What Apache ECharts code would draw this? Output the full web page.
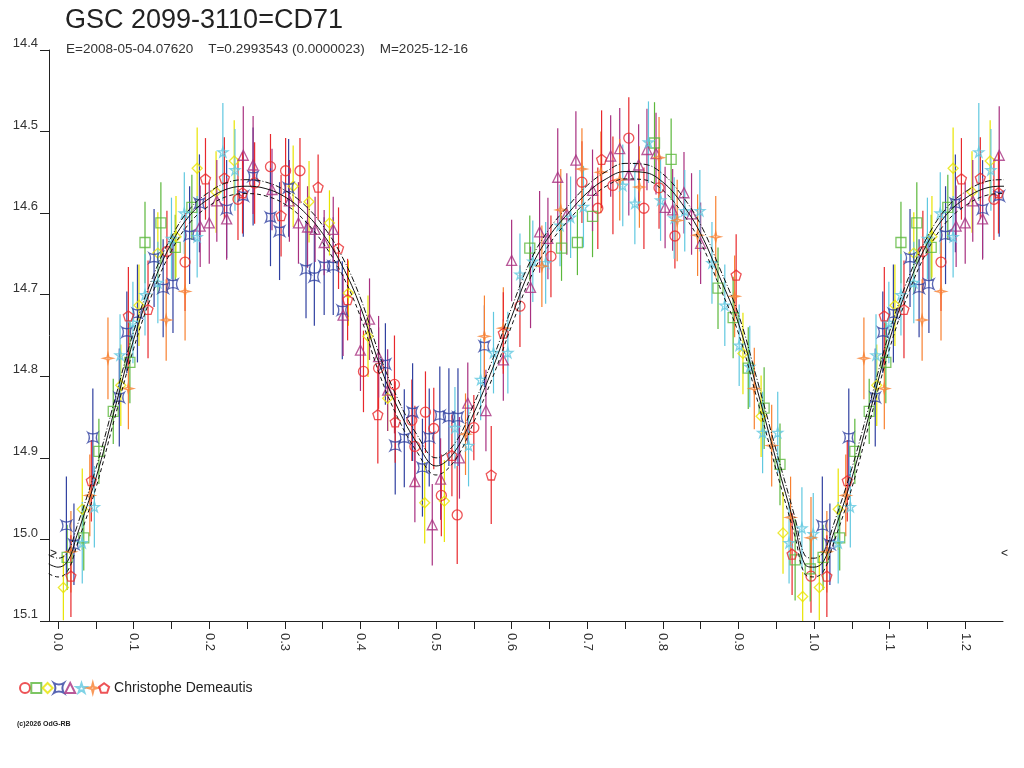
<!DOCTYPE html>
<html>
<head>
<meta charset="utf-8">
<script src="https://cdn.jsdelivr.net/npm/echarts@6/dist/echarts.min.js"></script>
<style>
html,body{margin:0;padding:0;background:#fff;}
#chart{width:1024px;height:768px;}
</style>
</head>
<body>
<div id="chart"></div>
<script>
// phase, magnitude, error (half length)
const redCircle = [
    [0.144,14.647,0.05],[0.168,14.660,0.06],[0.238,14.583,0.05],[0.260,14.563,0.05],[0.281,14.543,0.04],
    [0.301,14.548,0.04],[0.320,14.548,0.04],[0.404,14.794,0.05],[0.424,14.790,0.05],[0.445,14.810,0.06],
    [0.468,14.854,0.05],[0.472,14.886,0.05],[0.486,14.844,0.05],[0.497,14.864,0.05],[0.507,14.946,0.05],
    [0.528,14.970,0.06],[0.550,14.863,0.04],[0.611,14.714,0.05],[0.652,14.653,0.05],[0.693,14.562,0.05],
    [0.714,14.594,0.05],[0.734,14.566,0.06],[0.755,14.508,0.05],[0.775,14.594,0.05],[0.795,14.569,0.05],
    [0.816,14.628,0.04],[0.996,15.045,0.045]
];
const greenSquare = [
    [0.012,15.022,0.04],[0.034,14.998,0.04],[0.054,14.892,0.04],[0.073,14.843,0.04],[0.095,14.783,0.05],
    [0.115,14.636,0.05],[0.136,14.612,0.05],[0.155,14.642,0.04],[0.177,14.593,0.04],[0.624,14.643,0.04],
    [0.666,14.643,0.04],[0.687,14.636,0.04],[0.707,14.604,0.05],[0.789,14.514,0.05],[0.811,14.534,0.05],
    [0.873,14.692,0.05],[0.893,14.728,0.05],[0.913,14.790,0.05],[0.934,14.839,0.05],[0.955,14.908,0.05],
    [0.975,15.025,0.05],[0.995,15.036,0.04]
];
const yellowDiamond = [
    [0.007,15.059,0.04],[0.032,14.963,0.05],[0.083,14.811,0.05],[0.107,14.713,0.05],[0.132,14.649,0.05],
    [0.156,14.629,0.05],[0.184,14.545,0.05],[0.209,14.574,0.05],[0.233,14.536,0.05],[0.311,14.567,0.05],
    [0.332,14.586,0.05],[0.359,14.612,0.04],[0.384,14.698,0.04],[0.410,14.751,0.05],[0.436,14.827,0.04],
    [0.485,14.955,0.05],[0.511,14.953,0.05],[0.906,14.772,0.05],[0.930,14.849,0.05],[0.959,14.992,0.05],
    [0.985,15.070,0.03]
];
const blueCross = [
    [0.011,14.983,0.06],[0.021,15.006,0.05],[0.046,14.875,0.06],[0.081,14.826,0.06],[0.091,14.746,0.05],
    [0.105,14.723,0.06],[0.127,14.655,0.06],[0.139,14.692,0.06],[0.152,14.687,0.06],[0.174,14.627,0.06],
    [0.187,14.588,0.06],[0.223,14.595,0.06],[0.245,14.579,0.05],[0.258,14.555,0.06],[0.281,14.605,0.06],
    [0.293,14.622,0.06],[0.305,14.569,0.06],[0.328,14.669,0.06],[0.339,14.678,0.06],[0.352,14.665,0.06],
    [0.364,14.665,0.06],[0.376,14.719,0.06],[0.433,14.785,0.05],[0.446,14.885,0.06],[0.458,14.876,0.06],
    [0.469,14.844,0.06],[0.482,14.912,0.06],[0.491,14.875,0.06],[0.505,14.848,0.06],[0.517,14.850,0.06],
    [0.529,14.850,0.06],[0.564,14.763,0.05]
];
const purpleTriangle = [
    [0.188,14.616,0.05],[0.200,14.612,0.05],[0.210,14.585,0.05],[0.223,14.607,0.05],[0.245,14.529,0.06],
    [0.258,14.541,0.06],[0.283,14.571,0.05],[0.306,14.585,0.05],[0.318,14.612,0.05],[0.330,14.617,0.05],
    [0.340,14.620,0.04],[0.352,14.636,0.04],[0.364,14.620,0.04],[0.377,14.725,0.05],[0.400,14.768,0.05],
    [0.412,14.730,0.05],[0.424,14.776,0.05],[0.436,14.817,0.05],[0.472,14.929,0.05],[0.495,14.982,0.05],
    [0.506,14.926,0.05],[0.531,14.900,0.05],[0.542,14.833,0.05],[0.566,14.842,0.05],[0.589,14.780,0.05],
    [0.600,14.658,0.05],[0.625,14.691,0.05],[0.637,14.623,0.05],[0.648,14.631,0.05],[0.661,14.556,0.06],
    [0.673,14.601,0.05],[0.685,14.535,0.06],[0.707,14.572,0.05],[0.731,14.530,0.05],[0.743,14.521,0.05],
    [0.755,14.553,0.05],[0.768,14.541,0.05],[0.779,14.522,0.05],[0.791,14.527,0.05],[0.803,14.593,0.05],
    [0.813,14.596,0.05],[0.828,14.575,0.05],[0.838,14.601,0.05],[0.850,14.637,0.05]
];
const cyanStar = [
    [0.032,15.004,0.05],[0.048,14.960,0.05],[0.082,14.774,0.05],[0.099,14.734,0.05],[0.115,14.700,0.05],
    [0.132,14.685,0.05],[0.150,14.631,0.05],[0.167,14.600,0.05],[0.184,14.629,0.05],[0.218,14.525,0.06],
    [0.234,14.547,0.05],[0.525,14.863,0.05],[0.543,14.885,0.05],[0.559,14.804,0.05],[0.576,14.771,0.05],
    [0.595,14.771,0.05],[0.611,14.675,0.05],[0.628,14.659,0.05],[0.645,14.661,0.05],[0.664,14.615,0.05],
    [0.678,14.605,0.05],[0.695,14.592,0.05],[0.747,14.566,0.05],[0.763,14.588,0.05],[0.781,14.513,0.05],
    [0.797,14.584,0.05],[0.815,14.606,0.05],[0.829,14.597,0.05],[0.849,14.597,0.05],[0.865,14.661,0.05],
    [0.882,14.713,0.05],[0.901,14.762,0.05],[0.915,14.788,0.05],[0.932,14.869,0.05],[0.952,14.869,0.05],
    [0.967,15.004,0.05],[0.984,14.986,0.05],[0.999,14.993,0.05]
];
const orangeStar = [
    [0.017,15.015,0.05],[0.042,14.946,0.05],[0.066,14.778,0.05],[0.093,14.815,0.05],[0.143,14.731,0.05],
    [0.168,14.696,0.06],[0.539,14.871,0.05],[0.564,14.751,0.05],[0.589,14.741,0.05],[0.640,14.665,0.05],
    [0.665,14.596,0.05],[0.693,14.546,0.05],[0.718,14.550,0.05],[0.743,14.559,0.05],[0.769,14.568,0.05],
    [0.795,14.532,0.05],[0.819,14.609,0.05],[0.846,14.627,0.05],[0.870,14.629,0.05],[0.895,14.702,0.05],
    [0.921,14.815,0.05],[0.944,14.885,0.05],[0.969,14.973,0.05],[0.996,14.998,0.05]
];
const redPentagon = [
    [0.017,15.045,0.05],[0.044,14.928,0.05],[0.093,14.726,0.06],[0.119,14.718,0.06],[0.195,14.558,0.05],
    [0.220,14.557,0.05],[0.244,14.575,0.05],[0.295,14.603,0.05],[0.344,14.568,0.04],[0.371,14.643,0.05],
    [0.383,14.706,0.05],[0.423,14.847,0.06],[0.446,14.856,0.05],[0.521,14.897,0.05],[0.573,14.921,0.06],
    [0.589,14.747,0.05],[0.719,14.534,0.06],[0.897,14.676,0.05],[0.971,15.018,0.05]
];

// fitted light curve and its band
const curvePhase = [0,0.0125,0.025,0.05,0.075,0.1,0.125,0.15,0.175,0.2,0.225,0.25,0.275,0.3,0.325,0.35,0.375,0.4,0.425,0.45,0.475,0.5,0.525,0.55,0.575,0.6,0.625,0.65,0.675,0.7,0.725,0.75,0.775,0.8,0.825,0.85,0.875,0.9,0.925,0.95,0.975,0.9875,1.0];
const curveMid = [15.034,15.027,14.995,14.925,14.840,14.755,14.688,14.637,14.602,14.582,14.570,14.567,14.570,14.580,14.598,14.625,14.663,14.715,14.785,14.840,14.882,14.910,14.892,14.845,14.790,14.727,14.668,14.628,14.600,14.575,14.558,14.549,14.550,14.562,14.588,14.625,14.678,14.735,14.817,14.903,14.985,15.030,15.034];
const curveUp = [15.023,15.016,14.984,14.913,14.829,14.745,14.679,14.629,14.594,14.574,14.562,14.559,14.562,14.572,14.589,14.615,14.652,14.704,14.773,14.829,14.872,14.900,14.882,14.834,14.779,14.716,14.658,14.619,14.591,14.566,14.549,14.539,14.540,14.552,14.578,14.614,14.667,14.724,14.805,14.891,14.974,15.019,15.023];
const curveLow = [15.046,15.039,15.007,14.937,14.851,14.766,14.698,14.646,14.611,14.591,14.579,14.576,14.579,14.589,14.608,14.636,14.674,14.727,14.797,14.852,14.893,14.921,14.903,14.856,14.801,14.738,14.679,14.638,14.609,14.585,14.567,14.558,14.559,14.572,14.599,14.636,14.690,14.747,14.829,14.915,14.997,15.042,15.046];

const xTicks = [0,0.05,0.1,0.15,0.2,0.25,0.3,0.35,0.4,0.45,0.5,0.55,0.6,0.65,0.7,0.75,0.8,0.85,0.9,0.95,1.0,1.05,1.1,1.15,1.2];
const xLabels = [0,0.1,0.2,0.3,0.4,0.5,0.6,0.7,0.8,0.9,1.0,1.1,1.2];

const groups = [
    {name:'c1', data:redCircle, color:'#e8282c', symbol:'circle'},
    {name:'c2', data:greenSquare, color:'#5cb83c', symbol:'rect'},
    {name:'c3', data:yellowDiamond, color:'#e8e400', symbol:'diamond'},
    {name:'c4', data:blueCross, color:'#3040a0', symbol:'path://M0,0 Q50,30 100,0 Q70,50 100,100 Q50,70 0,100 Q30,50 0,0 Z'},
    {name:'c5', data:purpleTriangle, color:'#a83080', symbol:'triangle'},
    {name:'c6', data:cyanStar, color:'#60c8e0', symbol:'path://M50,0 L61,35 L98,35 L68,57 L79,91 L50,70 L21,91 L32,57 L2,35 L39,35 Z'},
    {name:'c7', data:orangeStar, color:'#f88030', symbol:'path://M50,0 L60,40 L100,50 L60,60 L50,100 L40,60 L0,50 L40,40 Z'},
    {name:'Christophe Demeautis', data:redPentagon, color:'#e8282c', symbol:'path://M50,0 L98,35 L79,91 L21,91 L2,35 Z'}
];

// phases 0..0.25 are drawn a second time after 1.0
function extend(arr){
    return arr.concat(arr.filter(function(p){return p[0]<=0.25;}).map(function(p){return [p[0]+1,p[1],p[2]];}));
}
function curveData(mags){
    let out=[];
    curvePhase.forEach(function(p,i){ if(p>=0.98 && p<1) out.push([p-1,mags[i]]); });
    curvePhase.forEach(function(p,i){ out.push([p,mags[i]]); });
    curvePhase.forEach(function(p,i){ if(p>0 && p<=0.3) out.push([p+1,mags[i]]); });
    return out;
}

let series=[];
groups.forEach(function(g){
    series.push({
        type:'custom',
        name:g.name+'-err',
        data:extend(g.data),
        encode:{x:0,y:1},
        silent:true,
        clip:true,
        z:1,
        renderItem:function(params,api){
            let x=api.value(0), m=api.value(1), e=api.value(2);
            let a=api.coord([x,m-e]), b=api.coord([x,m+e]);
            return {type:'line',shape:{x1:a[0],y1:a[1],x2:b[0],y2:b[1]},style:{stroke:g.color,lineWidth:1.2}};
        }
    });
});
groups.forEach(function(g){
    series.push({
        type:'scatter',
        name:g.name,
        data:extend(g.data).map(function(p){return [p[0],p[1]];}),
        symbol:g.symbol,
        symbolSize:10,
        z:3,
        itemStyle:{color:'rgba(255,255,255,0)',borderColor:g.color,borderWidth:1.3}
    });
});
series.push({type:'line',data:curveData(curveUp),smooth:0.4,showSymbol:false,silent:true,z:4,
    lineStyle:{color:'#111',width:1,type:[6,2,1,2]}});
series.push({type:'line',data:curveData(curveMid),smooth:0.4,showSymbol:false,silent:true,z:4,
    lineStyle:{color:'#111',width:1}});
series.push({type:'line',data:curveData(curveLow),smooth:0.4,showSymbol:false,silent:true,z:4,
    lineStyle:{color:'#111',width:1,type:[4,3]}});

const chart=echarts.init(document.getElementById('chart'));
chart.setOption({
    animation:false,
    backgroundColor:'#fff',
    textStyle:{fontFamily:'Liberation Sans, Arial, sans-serif'},
    grid:{left:49,right:21,top:50,bottom:147},
    legend:{
        data:groups.map(function(g){return g.name;}),
        left:14,top:676,
        itemWidth:10,itemHeight:10,itemGap:-0.7,
        formatter:function(n){return n==='Christophe Demeautis'?'Christophe Demeautis':'';},
        textStyle:{fontSize:14,color:'#222'}
    },
    xAxis:{
        type:'value',min:-0.012,max:1.25,
        axisLine:{onZero:false,lineStyle:{color:'#222'}},
        axisTick:{show:true,length:8,customValues:xTicks,lineStyle:{color:'#222'}},
        axisLabel:{customValues:xLabels,rotate:-90,margin:12,fontSize:13,color:'#333',
            formatter:function(v){return v.toFixed(1);}},
        splitLine:{show:false}
    },
    yAxis:{
        type:'value',inverse:true,min:14.4,max:15.1,interval:0.1,
        axisLine:{show:true,onZero:false,lineStyle:{color:'#222'}},
        axisTick:{show:true,length:9,lineStyle:{color:'#222'}},
        axisLabel:{fontSize:13,color:'#333',margin:11,verticalAlign:'bottom',
            formatter:function(v){return v.toFixed(1);}},
        splitLine:{show:false}
    },
    graphic:[
        {type:'text',left:65,top:7,style:{text:'GSC 2099-3110=CD71',fontSize:27,fill:'#222',fontFamily:'Liberation Sans, Arial'}},
        {type:'text',left:66,top:42,style:{text:'E=2008-05-04.07620    T=0.2993543 (0.0000023)    M=2025-12-16',fontSize:13.5,fill:'#333',fontFamily:'Liberation Sans, Arial'}},
        {type:'text',left:50,top:548,style:{text:'>',fontSize:12,fill:'#222'}},
        {type:'text',left:1001,top:548,style:{text:'<',fontSize:12,fill:'#222'}},
        {type:'text',left:17,top:721,style:{text:'(c)2026 OdG-RB',fontSize:7,fontWeight:'bold',fill:'#222'}}
    ],
    series:series
});
</script>
</body>
</html>
